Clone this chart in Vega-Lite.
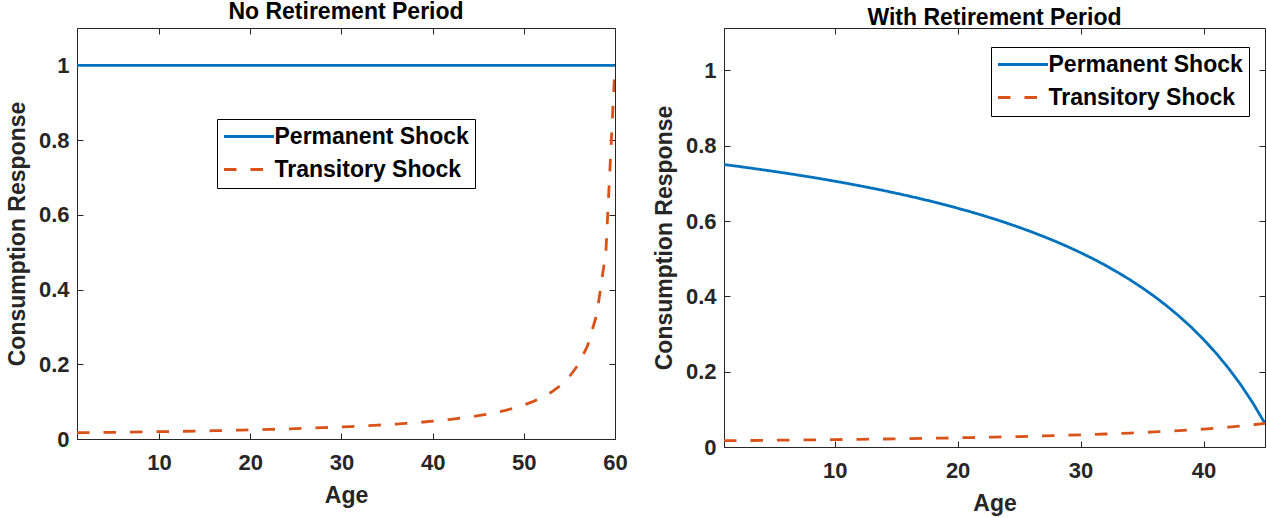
{
  "$schema": "https://vega.github.io/schema/vega-lite/v6.json",
  "padding": {"left": 5, "top": 0, "right": 0, "bottom": 0},
  "background": "white",
  "spacing": 24,
  "config": {
    "font": "Liberation Sans",
    "view": {"stroke": "#262626", "strokeWidth": 1},
    "axis": {
      "labelFont": "Liberation Sans", "labelFontSize": 22, "labelFontWeight": "bold", "labelColor": "#262626",
      "titleFont": "Liberation Sans", "titleFontSize": 23, "titleFontWeight": "bold", "titleColor": "#262626",
      "domainColor": "#262626", "domainWidth": 1, "tickColor": "#262626", "tickWidth": 1, "tickSize": -6,
      "grid": false, "labelFlush": false
    },
    "title": {"font": "Liberation Sans", "fontSize": 23, "fontWeight": "bold", "color": "#000000", "anchor": "middle", "offset": 4},
    "legend": {
      "labelFont": "Liberation Sans", "labelFontSize": 23, "labelFontWeight": "bold", "labelColor": "#000000",
      "symbolType": "M-5,0H5", "symbolSize": 100, "symbolStrokeWidth": 3, "symbolOffset": 14.5, "labelOffset": 14,
      "rowPadding": 9, "padding": 6, "strokeColor": "#000000", "fillColor": "#ffffff", "labelLimit": 400
    }
  },
  "datasets": {
    "left": [
      {"age": 1, "Permanent Shock": 1, "Transitory Shock": 0.0167},
      {"age": 2, "Permanent Shock": 1, "Transitory Shock": 0.0169},
      {"age": 3, "Permanent Shock": 1, "Transitory Shock": 0.0172},
      {"age": 4, "Permanent Shock": 1, "Transitory Shock": 0.0175},
      {"age": 5, "Permanent Shock": 1, "Transitory Shock": 0.0179},
      {"age": 6, "Permanent Shock": 1, "Transitory Shock": 0.0182},
      {"age": 7, "Permanent Shock": 1, "Transitory Shock": 0.0185},
      {"age": 8, "Permanent Shock": 1, "Transitory Shock": 0.0189},
      {"age": 9, "Permanent Shock": 1, "Transitory Shock": 0.0192},
      {"age": 10, "Permanent Shock": 1, "Transitory Shock": 0.0196},
      {"age": 11, "Permanent Shock": 1, "Transitory Shock": 0.0200},
      {"age": 12, "Permanent Shock": 1, "Transitory Shock": 0.0204},
      {"age": 13, "Permanent Shock": 1, "Transitory Shock": 0.0208},
      {"age": 14, "Permanent Shock": 1, "Transitory Shock": 0.0213},
      {"age": 15, "Permanent Shock": 1, "Transitory Shock": 0.0217},
      {"age": 16, "Permanent Shock": 1, "Transitory Shock": 0.0222},
      {"age": 17, "Permanent Shock": 1, "Transitory Shock": 0.0227},
      {"age": 18, "Permanent Shock": 1, "Transitory Shock": 0.0233},
      {"age": 19, "Permanent Shock": 1, "Transitory Shock": 0.0238},
      {"age": 20, "Permanent Shock": 1, "Transitory Shock": 0.0244},
      {"age": 21, "Permanent Shock": 1, "Transitory Shock": 0.0250},
      {"age": 22, "Permanent Shock": 1, "Transitory Shock": 0.0256},
      {"age": 23, "Permanent Shock": 1, "Transitory Shock": 0.0263},
      {"age": 24, "Permanent Shock": 1, "Transitory Shock": 0.0270},
      {"age": 25, "Permanent Shock": 1, "Transitory Shock": 0.0278},
      {"age": 26, "Permanent Shock": 1, "Transitory Shock": 0.0286},
      {"age": 27, "Permanent Shock": 1, "Transitory Shock": 0.0294},
      {"age": 28, "Permanent Shock": 1, "Transitory Shock": 0.0303},
      {"age": 29, "Permanent Shock": 1, "Transitory Shock": 0.0313},
      {"age": 30, "Permanent Shock": 1, "Transitory Shock": 0.0323},
      {"age": 31, "Permanent Shock": 1, "Transitory Shock": 0.0333},
      {"age": 32, "Permanent Shock": 1, "Transitory Shock": 0.0345},
      {"age": 33, "Permanent Shock": 1, "Transitory Shock": 0.0357},
      {"age": 34, "Permanent Shock": 1, "Transitory Shock": 0.0370},
      {"age": 35, "Permanent Shock": 1, "Transitory Shock": 0.0385},
      {"age": 36, "Permanent Shock": 1, "Transitory Shock": 0.0400},
      {"age": 37, "Permanent Shock": 1, "Transitory Shock": 0.0417},
      {"age": 38, "Permanent Shock": 1, "Transitory Shock": 0.0435},
      {"age": 39, "Permanent Shock": 1, "Transitory Shock": 0.0455},
      {"age": 40, "Permanent Shock": 1, "Transitory Shock": 0.0476},
      {"age": 41, "Permanent Shock": 1, "Transitory Shock": 0.0500},
      {"age": 42, "Permanent Shock": 1, "Transitory Shock": 0.0526},
      {"age": 43, "Permanent Shock": 1, "Transitory Shock": 0.0556},
      {"age": 44, "Permanent Shock": 1, "Transitory Shock": 0.0588},
      {"age": 45, "Permanent Shock": 1, "Transitory Shock": 0.0625},
      {"age": 46, "Permanent Shock": 1, "Transitory Shock": 0.0667},
      {"age": 47, "Permanent Shock": 1, "Transitory Shock": 0.0714},
      {"age": 48, "Permanent Shock": 1, "Transitory Shock": 0.0769},
      {"age": 49, "Permanent Shock": 1, "Transitory Shock": 0.0833},
      {"age": 50, "Permanent Shock": 1, "Transitory Shock": 0.0909},
      {"age": 51, "Permanent Shock": 1, "Transitory Shock": 0.1000},
      {"age": 52, "Permanent Shock": 1, "Transitory Shock": 0.1111},
      {"age": 53, "Permanent Shock": 1, "Transitory Shock": 0.1250},
      {"age": 54, "Permanent Shock": 1, "Transitory Shock": 0.1429},
      {"age": 55, "Permanent Shock": 1, "Transitory Shock": 0.1667},
      {"age": 56, "Permanent Shock": 1, "Transitory Shock": 0.2000},
      {"age": 57, "Permanent Shock": 1, "Transitory Shock": 0.2500},
      {"age": 58, "Permanent Shock": 1, "Transitory Shock": 0.3333},
      {"age": 59, "Permanent Shock": 1, "Transitory Shock": 0.5000},
      {"age": 60, "Permanent Shock": 1, "Transitory Shock": 1.0000}
    ],
    "right": [
      {"age": 1, "Permanent Shock": 0.7500, "Transitory Shock": 0.0167},
      {"age": 2, "Permanent Shock": 0.7458, "Transitory Shock": 0.0169},
      {"age": 3, "Permanent Shock": 0.7414, "Transitory Shock": 0.0172},
      {"age": 4, "Permanent Shock": 0.7368, "Transitory Shock": 0.0175},
      {"age": 5, "Permanent Shock": 0.7321, "Transitory Shock": 0.0179},
      {"age": 6, "Permanent Shock": 0.7273, "Transitory Shock": 0.0182},
      {"age": 7, "Permanent Shock": 0.7222, "Transitory Shock": 0.0185},
      {"age": 8, "Permanent Shock": 0.7170, "Transitory Shock": 0.0189},
      {"age": 9, "Permanent Shock": 0.7115, "Transitory Shock": 0.0192},
      {"age": 10, "Permanent Shock": 0.7059, "Transitory Shock": 0.0196},
      {"age": 11, "Permanent Shock": 0.7000, "Transitory Shock": 0.0200},
      {"age": 12, "Permanent Shock": 0.6939, "Transitory Shock": 0.0204},
      {"age": 13, "Permanent Shock": 0.6875, "Transitory Shock": 0.0208},
      {"age": 14, "Permanent Shock": 0.6809, "Transitory Shock": 0.0213},
      {"age": 15, "Permanent Shock": 0.6739, "Transitory Shock": 0.0217},
      {"age": 16, "Permanent Shock": 0.6667, "Transitory Shock": 0.0222},
      {"age": 17, "Permanent Shock": 0.6591, "Transitory Shock": 0.0227},
      {"age": 18, "Permanent Shock": 0.6512, "Transitory Shock": 0.0233},
      {"age": 19, "Permanent Shock": 0.6429, "Transitory Shock": 0.0238},
      {"age": 20, "Permanent Shock": 0.6341, "Transitory Shock": 0.0244},
      {"age": 21, "Permanent Shock": 0.6250, "Transitory Shock": 0.0250},
      {"age": 22, "Permanent Shock": 0.6154, "Transitory Shock": 0.0256},
      {"age": 23, "Permanent Shock": 0.6053, "Transitory Shock": 0.0263},
      {"age": 24, "Permanent Shock": 0.5946, "Transitory Shock": 0.0270},
      {"age": 25, "Permanent Shock": 0.5833, "Transitory Shock": 0.0278},
      {"age": 26, "Permanent Shock": 0.5714, "Transitory Shock": 0.0286},
      {"age": 27, "Permanent Shock": 0.5588, "Transitory Shock": 0.0294},
      {"age": 28, "Permanent Shock": 0.5455, "Transitory Shock": 0.0303},
      {"age": 29, "Permanent Shock": 0.5313, "Transitory Shock": 0.0313},
      {"age": 30, "Permanent Shock": 0.5161, "Transitory Shock": 0.0323},
      {"age": 31, "Permanent Shock": 0.5000, "Transitory Shock": 0.0333},
      {"age": 32, "Permanent Shock": 0.4828, "Transitory Shock": 0.0345},
      {"age": 33, "Permanent Shock": 0.4643, "Transitory Shock": 0.0357},
      {"age": 34, "Permanent Shock": 0.4444, "Transitory Shock": 0.0370},
      {"age": 35, "Permanent Shock": 0.4231, "Transitory Shock": 0.0385},
      {"age": 36, "Permanent Shock": 0.4000, "Transitory Shock": 0.0400},
      {"age": 37, "Permanent Shock": 0.3750, "Transitory Shock": 0.0417},
      {"age": 38, "Permanent Shock": 0.3478, "Transitory Shock": 0.0435},
      {"age": 39, "Permanent Shock": 0.3182, "Transitory Shock": 0.0455},
      {"age": 40, "Permanent Shock": 0.2857, "Transitory Shock": 0.0476},
      {"age": 41, "Permanent Shock": 0.2500, "Transitory Shock": 0.0500},
      {"age": 42, "Permanent Shock": 0.2105, "Transitory Shock": 0.0526},
      {"age": 43, "Permanent Shock": 0.1667, "Transitory Shock": 0.0556},
      {"age": 44, "Permanent Shock": 0.1176, "Transitory Shock": 0.0588},
      {"age": 45, "Permanent Shock": 0.0625, "Transitory Shock": 0.0625}
    ]
  },
  "hconcat": [
    {
      "width": 538, "height": 411,
      "title": "No Retirement Period",
      "data": {"name": "left"},
      "transform": [{"fold": ["Permanent Shock", "Transitory Shock"], "as": ["series", "value"]}],
      "layer": [
        {
          "mark": {"type": "line", "strokeWidth": 2.8, "clip": true},
          "encoding": {
            "x": {"field": "age", "type": "quantitative", "scale": {"domain": [1, 60], "nice": false, "zero": false},
                  "axis": {"values": [10, 20, 30, 40, 50, 60], "title": "Age", "labelPadding": 19, "titlePadding": 11}},
            "y": {"field": "value", "type": "quantitative", "scale": {"domain": [0, 1.1], "nice": false},
                  "axis": {"values": [0, 0.2, 0.4, 0.6, 0.8, 1], "format": "~g", "title": "Consumption Response", "labelPadding": 14, "titlePadding": 9}},
            "color": {"field": "series", "type": "nominal",
                      "scale": {"domain": ["Permanent Shock", "Transitory Shock"], "range": ["#0072BD", "#D95319"]},
                      "legend": {"title": null, "orient": "none", "legendX": 140, "legendY": 91}},
            "strokeDash": {"field": "series", "type": "nominal",
                      "scale": {"domain": ["Permanent Shock", "Transitory Shock"], "range": [[1, 0], [12.5, 14]]},
                      "legend": {"title": null, "orient": "none", "legendX": 140, "legendY": 91}}
          }
        },
        {
          "mark": {"type": "line", "opacity": 0},
          "encoding": {
            "x": {"field": "age", "type": "quantitative", "scale": {"domain": [1, 60], "nice": false, "zero": false}, "axis": {"orient": "top", "values": [10, 20, 30, 40, 50, 60], "labels": false, "title": null, "domain": false}},
            "y": {"field": "value", "type": "quantitative", "scale": {"domain": [0, 1.1], "nice": false}, "axis": {"orient": "right", "values": [0, 0.2, 0.4, 0.6, 0.8, 1], "labels": false, "title": null, "domain": false}}
          }
        }
      ],
      "resolve": {"axis": {"x": "independent", "y": "independent"}}
    },
    {
      "width": 541, "height": 419,
      "title": {"text": "With Retirement Period", "offset": -2},
      "data": {"name": "right"},
      "transform": [{"fold": ["Permanent Shock", "Transitory Shock"], "as": ["series", "value"]}],
      "layer": [
        {
          "mark": {"type": "line", "strokeWidth": 2.8, "clip": true},
          "encoding": {
            "x": {"field": "age", "type": "quantitative", "scale": {"domain": [1, 45], "nice": false, "zero": false},
                  "axis": {"values": [10, 20, 30, 40], "title": "Age", "labelPadding": 19, "titlePadding": 11}},
            "y": {"field": "value", "type": "quantitative", "scale": {"domain": [0, 1.1126], "nice": false},
                  "axis": {"values": [0, 0.2, 0.4, 0.6, 0.8, 1], "format": "~g", "title": "Consumption Response", "labelPadding": 14, "titlePadding": 9}},
            "color": {"field": "series", "type": "nominal",
                      "scale": {"domain": ["Permanent Shock", "Transitory Shock"], "range": ["#0072BD", "#D95319"]},
                      "legend": {"title": null, "orient": "none", "legendX": 267, "legendY": 19}},
            "strokeDash": {"field": "series", "type": "nominal",
                      "scale": {"domain": ["Permanent Shock", "Transitory Shock"], "range": [[1, 0], [12.5, 14]]},
                      "legend": {"title": null, "orient": "none", "legendX": 267, "legendY": 19}}
          }
        },
        {
          "mark": {"type": "line", "opacity": 0},
          "encoding": {
            "x": {"field": "age", "type": "quantitative", "scale": {"domain": [1, 45], "nice": false, "zero": false}, "axis": {"orient": "top", "values": [10, 20, 30, 40], "labels": false, "title": null, "domain": false}},
            "y": {"field": "value", "type": "quantitative", "scale": {"domain": [0, 1.1126], "nice": false}, "axis": {"orient": "right", "values": [0, 0.2, 0.4, 0.6, 0.8, 1], "labels": false, "title": null, "domain": false}}
          }
        }
      ],
      "resolve": {"axis": {"x": "independent", "y": "independent"}}
    }
  ],
  "resolve": {"scale": {"color": "independent", "strokeDash": "independent"}}
}
